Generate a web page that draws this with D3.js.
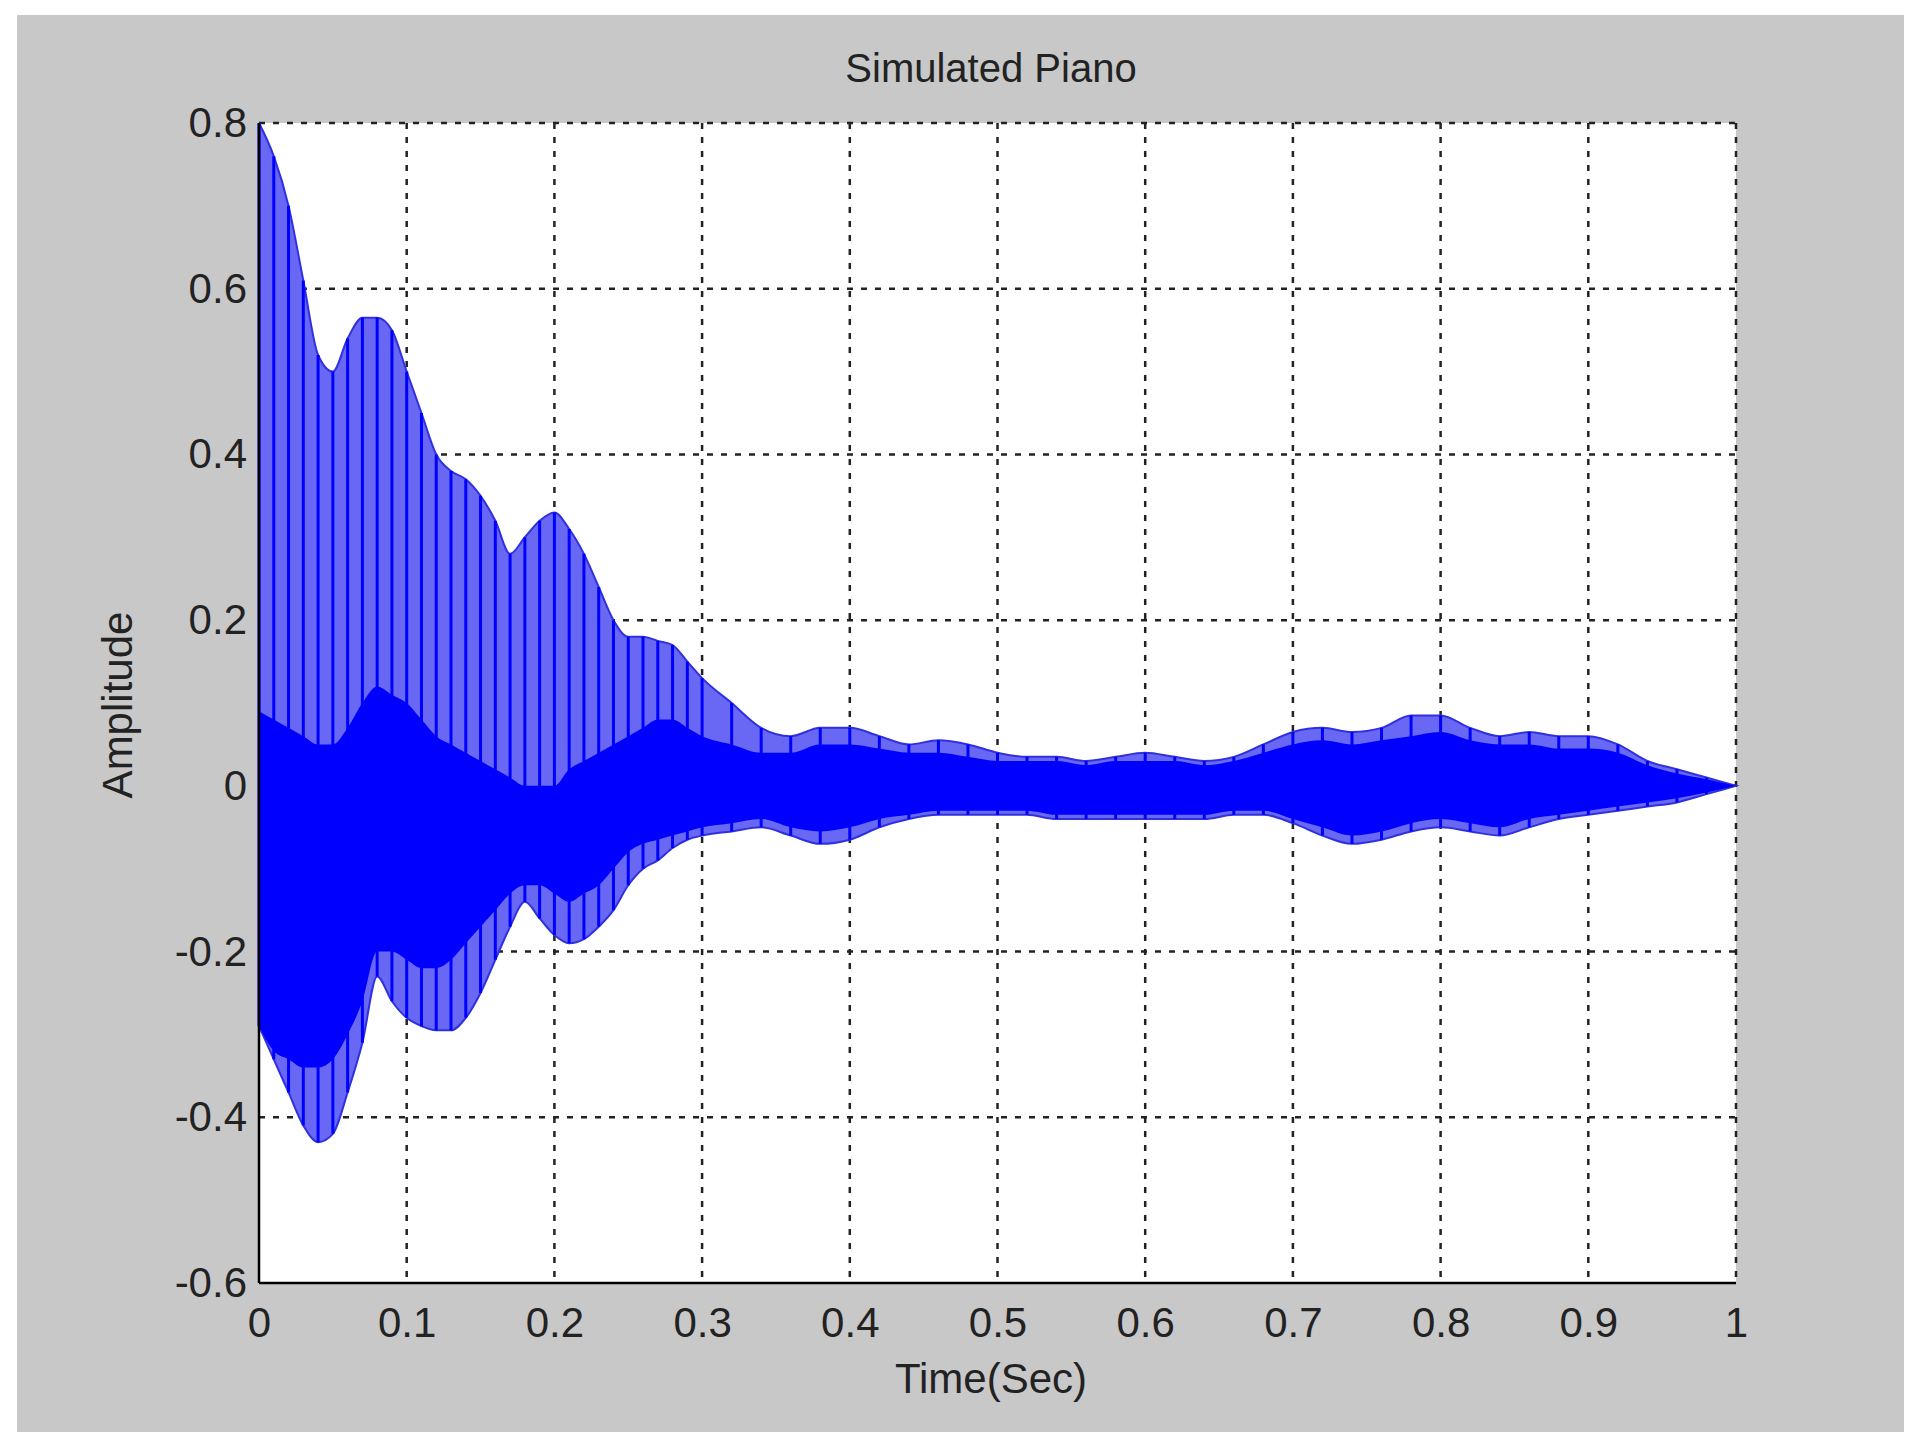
<!DOCTYPE html><html><head><meta charset="utf-8"><script src="https://cdn.jsdelivr.net/npm/d3@7"></script>
<style>body{margin:0;background:#fff}text{font-family:"Liberation Sans Narrow","Arial Narrow","Liberation Sans",sans-serif;fill:#222}</style></head><body><svg id="c" width="1930" height="1453"></svg><script>
const times=[0,0.01,0.02,0.03,0.04,0.05,0.06,0.07,0.08,0.09,0.10,0.11,0.12,0.13,0.14,0.15,0.16,0.17,0.18,0.19,0.20,0.21,0.22,0.23,0.24,0.25,0.26,0.27,0.28,0.29,0.30,
0.32,0.34,0.36,0.38,0.40,0.42,0.44,0.46,0.48,0.50,0.52,0.54,0.56,0.58,0.60,0.62,0.64,0.66,0.68,0.70,0.72,0.74,0.76,0.78,0.80,0.82,0.84,0.86,0.88,0.90,0.92,0.94,0.96,0.98,1.00];
const upperEnv=[0.80,0.76,0.70,0.61,0.52,0.50,0.54,0.565,0.565,0.55,0.50,0.45,0.40,0.38,0.37,0.35,0.32,0.28,0.30,0.32,0.33,0.31,0.28,0.24,0.20,0.18,0.18,0.175,0.17,0.15,0.13,
0.10,0.07,0.06,0.07,0.07,0.06,0.05,0.055,0.05,0.04,0.035,0.035,0.03,0.035,0.04,0.035,0.03,0.035,0.05,0.065,0.07,0.065,0.07,0.085,0.085,0.07,0.06,0.065,0.06,0.06,0.05,0.03,0.02,0.01,0.0];
const lowerEnv=[-0.29,-0.33,-0.37,-0.41,-0.43,-0.42,-0.37,-0.31,-0.23,-0.26,-0.28,-0.29,-0.295,-0.295,-0.28,-0.25,-0.21,-0.17,-0.14,-0.16,-0.18,-0.19,-0.185,-0.17,-0.15,-0.12,-0.10,-0.09,-0.075,-0.065,-0.06,
-0.055,-0.05,-0.06,-0.07,-0.065,-0.05,-0.04,-0.035,-0.035,-0.035,-0.035,-0.04,-0.04,-0.04,-0.04,-0.04,-0.04,-0.035,-0.035,-0.045,-0.06,-0.07,-0.065,-0.055,-0.05,-0.055,-0.06,-0.05,-0.04,-0.035,-0.03,-0.025,-0.02,-0.01,0];
const coreUpper=[0.09,0.08,0.07,0.06,0.05,0.05,0.07,0.10,0.12,0.11,0.10,0.08,0.06,0.05,0.04,0.03,0.02,0.01,0.0,0.0,0.0,0.02,0.03,0.04,0.05,0.06,0.07,0.08,0.08,0.07,0.06,
0.05,0.04,0.04,0.05,0.05,0.045,0.04,0.04,0.035,0.03,0.03,0.03,0.025,0.03,0.03,0.03,0.025,0.03,0.04,0.05,0.055,0.05,0.055,0.06,0.065,0.055,0.05,0.05,0.045,0.045,0.04,0.025,0.015,0.008,0];
const coreLower=[-0.29,-0.32,-0.33,-0.34,-0.34,-0.33,-0.3,-0.26,-0.2,-0.2,-0.21,-0.22,-0.22,-0.21,-0.19,-0.17,-0.15,-0.13,-0.12,-0.12,-0.13,-0.14,-0.13,-0.12,-0.1,-0.08,-0.07,-0.065,-0.06,-0.055,-0.05,
-0.045,-0.04,-0.05,-0.055,-0.05,-0.04,-0.035,-0.03,-0.03,-0.03,-0.03,-0.035,-0.035,-0.035,-0.035,-0.035,-0.035,-0.03,-0.03,-0.04,-0.05,-0.06,-0.055,-0.045,-0.04,-0.045,-0.05,-0.04,-0.035,-0.03,-0.025,-0.02,-0.015,-0.008,0];
const xTicks=[0,0.1,0.2,0.3,0.4,0.5,0.6,0.7,0.8,0.9,1];
const xTickLabels=["0","0.1","0.2","0.3","0.4","0.5","0.6","0.7","0.8","0.9","1"];
const yTicks=[-0.6,-0.4,-0.2,0,0.2,0.4,0.6,0.8];
const yTickLabels=["-0.6","-0.4","-0.2","0","0.2","0.4","0.6","0.8"];

const svg=d3.select("#c");
svg.append("rect").attr("x",17).attr("y",15).attr("width",1887).attr("height",1417).attr("fill","#c8c8c8");
const L=259,R=1736,T=123,B=1283;
const x=d3.scaleLinear().domain([0,1]).range([L,R]);
const y=d3.scaleLinear().domain([-0.6,0.8]).range([B,T]);
svg.append("rect").attr("x",L).attr("y",T).attr("width",R-L).attr("height",B-T).attr("fill","#fff");
const idx=d3.range(times.length);
const area=(u,l)=>d3.area().x(i=>x(times[i])).y0(i=>y(l[i])).y1(i=>y(u[i])).curve(d3.curveMonotoneX)(idx);
const g=svg.append("g").attr("stroke","#222").attr("stroke-width",2.5).attr("stroke-dasharray","6,8");
xTicks.forEach(t=>{if(t>0)g.append("line").attr("x1",x(t)).attr("x2",x(t)).attr("y1",T).attr("y2",B);});
yTicks.forEach(t=>{if(t>-0.6)g.append("line").attr("x1",L).attr("x2",R).attr("y1",y(t)).attr("y2",y(t));});
svg.append("path").attr("d",area(upperEnv,lowerEnv)).attr("fill","#6868f4").attr("stroke","#3030e0").attr("stroke-width",2);
svg.append("path").attr("d",area(coreUpper,coreLower)).attr("fill","#0000ff");
const st=svg.append("g").attr("stroke","#0000ff").attr("stroke-width",3);
idx.forEach(i=>{st.append("line").attr("x1",x(times[i])).attr("x2",x(times[i])).attr("y1",y(upperEnv[i])).attr("y2",y(lowerEnv[i]));});
svg.append("line").attr("x1",L).attr("x2",L).attr("y1",T).attr("y2",B).attr("stroke","#000").attr("stroke-width",2.5);
svg.append("line").attr("x1",L).attr("x2",R).attr("y1",B).attr("y2",B).attr("stroke","#000").attr("stroke-width",2.5);
const ax=svg.append("g").attr("transform",`translate(0,${B})`).call(d3.axisBottom(x).tickValues(xTicks).tickFormat((d,i)=>xTickLabels[i]).tickSize(0).tickPadding(24));
ax.select(".domain").remove();ax.selectAll("text").attr("font-size",42).attr("font-family","Liberation Sans Narrow, Liberation Sans").attr("fill","#222");
const ay=svg.append("g").attr("transform",`translate(${L},0)`).call(d3.axisLeft(y).tickValues(yTicks).tickFormat((d,i)=>yTickLabels[i]).tickSize(0).tickPadding(12));
ay.select(".domain").remove();ay.selectAll("text").attr("font-size",42).attr("font-family","Liberation Sans Narrow, Liberation Sans").attr("fill","#222");
svg.append("text").attr("x",991).attr("y",82).attr("text-anchor","middle").attr("font-size",40).text("Simulated Piano");
svg.append("text").attr("x",991).attr("y",1393).attr("text-anchor","middle").attr("font-size",42).text("Time(Sec)");
svg.append("text").attr("transform","translate(132,705) rotate(-90)").attr("text-anchor","middle").attr("font-size",42).text("Amplitude");
</script></body></html>
